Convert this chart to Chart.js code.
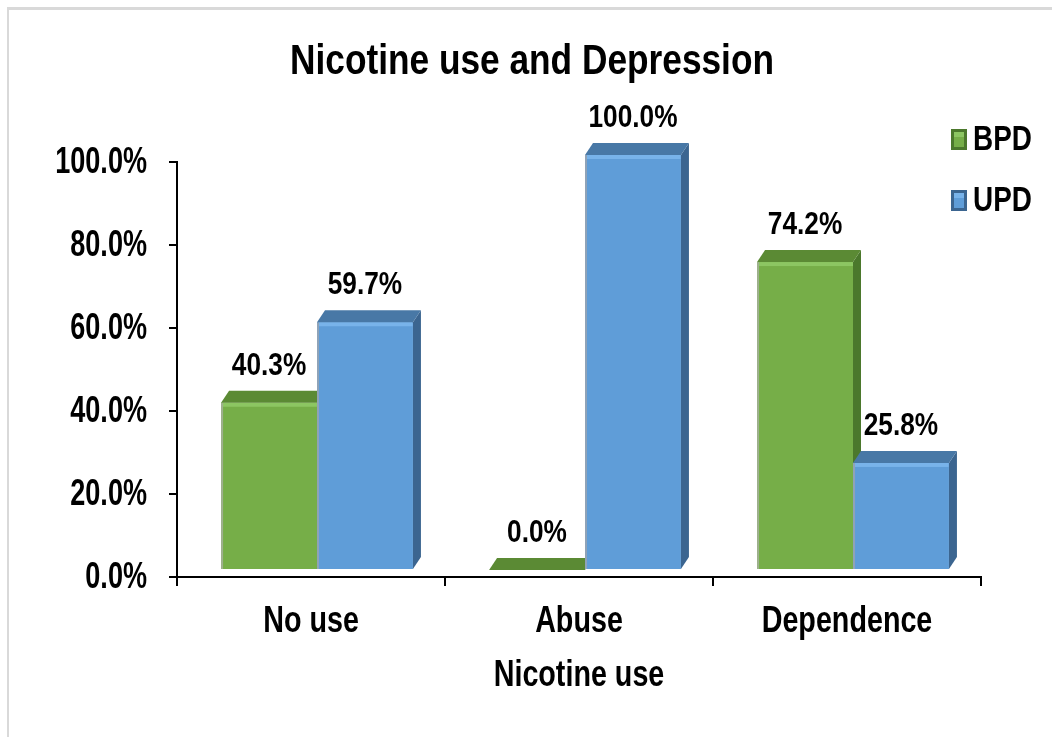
<!DOCTYPE html>
<html>
<head>
<meta charset="utf-8">
<title>Nicotine use and Depression</title>
<script src="https://cdn.jsdelivr.net/npm/chart.js@4/dist/chart.umd.min.js"></script>
<style>
  html, body { margin: 0; padding: 0; background: #fff; }
  #wrap { position: relative; width: 1052px; height: 737px; overflow: hidden; }
  #frame { position: absolute; left: 7px; top: 7px; width: 1100px; height: 800px;
           border-top: 3px solid #d9d9d9; border-left: 2px solid #d9d9d9; }
  #chart { position: absolute; left: 0; top: 0; }
</style>
</head>
<body>
<div id="wrap">
  <div id="frame"></div>
  <canvas id="chart" width="1052" height="737"></canvas>
</div>
<script>
  const chartTitle = 'Nicotine use and Depression';
  const xTitle = 'Nicotine use';
  const categories = ['No use', 'Abuse', 'Dependence'];
  const seriesNames = ['BPD', 'UPD'];
  const bpdValues = [40.3, 0.0, 74.2];
  const updValues = [59.7, 100.0, 25.8];
  const yTicks = [0, 20, 40, 60, 80, 100];

  const FONT = "'Liberation Sans', Arial, sans-serif";
  const NARROW = 0.82; // simula Arial Narrow

  // frente / topo / lateral / realce por serie
  const faces = [
    { front: '#76ae48', top: '#5b8a34', side: '#4b782c', light: '#8cc662', edge: '#9fb08f' },
    { front: '#5f9dd8', top: '#4878a6', side: '#3b6590', light: '#78b3ea', edge: '#8fa3b8' }
  ];
  const DX = 8, DY = 12, SHIFT_X = 6, SHIFT_Y = -7;

  // texto em negrito comprimido na horizontal
  function texto(ctx, s, x, y, size, align, sy) {
    ctx.save();
    ctx.font = 'bold ' + size + 'px ' + FONT;
    ctx.fillStyle = '#000';
    ctx.textAlign = align || 'center';
    ctx.textBaseline = 'middle';
    ctx.translate(x, y);
    ctx.scale(NARROW, sy || 1);
    ctx.fillText(s, 0, 0);
    ctx.restore();
  }

  const barras3d = {
    id: 'barras3d',
    // as colunas sao desenhadas a mao, na ordem certa
    beforeDatasetDraw() { return false; },
    afterDatasetsDraw(chart) {
      const ctx = chart.ctx;
      ctx.save();
      ctx.translate(SHIFT_X, SHIFT_Y);
      for (let j = 0; j < categories.length; j++) {
        chart.data.datasets.forEach((ds, i) => {
          const f = faces[i];
          const bar = chart.getDatasetMeta(i).data[j];
          const p = bar.getProps(['x', 'y', 'base', 'width'], true);
          const l = p.x - p.width / 2, r = p.x + p.width / 2;
          const t = p.y, b = p.base;
          if (b - t > 1) {
            ctx.fillStyle = f.front;
            ctx.fillRect(l, t, p.width, b - t);
            ctx.fillStyle = f.light;
            ctx.fillRect(l, t, p.width, Math.min(4, b - t));
            ctx.fillStyle = f.edge;
            ctx.fillRect(l, t, 2, b - t);
          }
          // lateral
          ctx.fillStyle = f.side;
          ctx.beginPath();
          ctx.moveTo(r, t); ctx.lineTo(r + DX, t - DY);
          ctx.lineTo(r + DX, b - DY); ctx.lineTo(r, b);
          ctx.closePath(); ctx.fill();
          // topo
          ctx.fillStyle = f.top;
          ctx.beginPath();
          ctx.moveTo(l, t); ctx.lineTo(l + DX, t - DY);
          ctx.lineTo(r + DX, t - DY); ctx.lineTo(r, t);
          ctx.closePath(); ctx.fill();
        });
      }
      ctx.restore();
    },
    afterDraw(chart) {
      const ctx = chart.ctx;
      const xs = chart.scales.x, ys = chart.scales.y;
      // titulo
      texto(ctx, chartTitle, 532, 62, 43);
      // rotulos dos eixos
      ys.ticks.forEach(t => {
        texto(ctx, t.value.toFixed(1) + '%', ys.right - 8 - 22, ys.getPixelForValue(t.value) + 1, 33, 'right', 1.1);
      });
      categories.forEach((c, i) => texto(ctx, c, xs.getPixelForTick(i), 622, 35, 'center', 1.05));
      texto(ctx, xTitle, (xs.left + xs.right) / 2, 676, 35, 'center', 1.05);
      // valores
      chart.data.datasets.forEach((ds, i) => {
        chart.getDatasetMeta(i).data.forEach((bar, j) => {
          texto(ctx, ds.data[j].toFixed(1) + '%', bar.x + SHIFT_X, bar.y + SHIFT_Y - DY - 25, 32);
        });
      });
      // legenda
      chart.data.datasets.forEach((ds, i) => {
        const y = 129 + i * 61;
        const f = faces[i];
        ctx.fillStyle = f.side;
        ctx.fillRect(951, y, 16, 21);
        ctx.fillStyle = f.front;
        ctx.fillRect(954, y + 3, 10, 15);
        ctx.fillStyle = f.light;
        ctx.fillRect(954, y + 3, 10, 5);
        texto(ctx, ds.label, 973, y + 11, 34, 'left', 1.05);
      });
    }
  };

  new Chart(document.getElementById('chart'), {
    type: 'bar',
    data: {
      labels: categories,
      datasets: [
        { label: seriesNames[0], data: bpdValues, backgroundColor: faces[0].front },
        { label: seriesNames[1], data: updValues, backgroundColor: faces[1].front }
      ]
    },
    options: {
      responsive: false,
      animation: false,
      layout: { padding: { left: 12, right: 71, top: 162, bottom: 0 } },
      datasets: { bar: { categoryPercentage: 0.716, barPercentage: 1 } },
      plugins: {
        legend: { display: false },
        tooltip: { enabled: false },
        title: { display: false }
      },
      scales: {
        x: {
          afterFit(scale) { scale.height = 160; },
          grid: { drawOnChartArea: false, offset: true, tickLength: 9, color: '#000', lineWidth: 2 },
          border: { display: true, color: '#000', width: 2 },
          ticks: { display: false }
        },
        y: {
          min: 0, max: 100,
          afterFit(scale) { scale.width = 165; },
          afterBuildTicks(scale) { scale.ticks = yTicks.map(v => ({ value: v })); },
          grid: { drawOnChartArea: false, tickLength: 8, color: '#000', lineWidth: 2 },
          border: { display: true, color: '#000', width: 2 },
          ticks: { display: false }
        }
      }
    },
    plugins: [barras3d]
  });
</script>
</body>
</html>
